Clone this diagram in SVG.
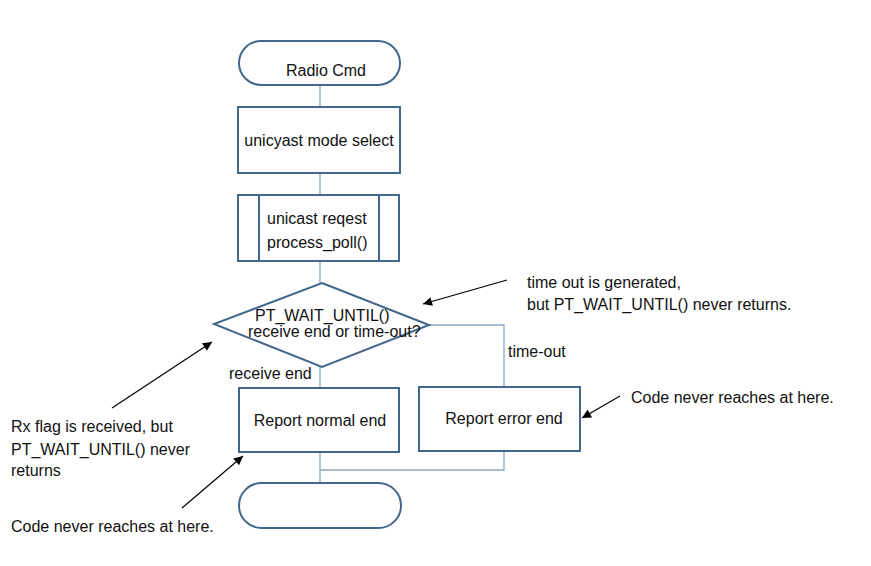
<svg xmlns="http://www.w3.org/2000/svg" width="871" height="566" viewBox="0 0 871 566">
<defs>
<style>
.n{fill:#fff;stroke:#41688c;stroke-width:2}
.c{fill:none;stroke:#8aa8c0;stroke-width:1.3}
.a{fill:none;stroke:#000;stroke-width:1.2}
text{font-family:"Liberation Sans",Arial,sans-serif;font-size:16px;fill:#111}
</style>
<marker id="ah" viewBox="0 0 10 10" refX="10" refY="5" markerWidth="12" markerHeight="9" markerUnits="userSpaceOnUse" orient="auto"><path d="M0,0L10,5L0,10z" fill="#000"/></marker>
</defs>
<rect width="871" height="566" fill="#fff"/>
<g id="connectors">
<path class="c" d="M320,85V107"/>
<path class="c" d="M320,173V195"/>
<path class="c" d="M320,261V283"/>
<path class="c" d="M320,367V388"/>
<path class="c" d="M429,325H504V387"/>
<path class="c" d="M320,452V483"/>
<path class="c" d="M504,451V470H320"/>
<text x="508" y="357">time-out</text>
<text x="229" y="379">receive end</text>
</g>
<g id="start"><rect class="n" x="239" y="41" width="161" height="44" rx="22"/><text x="326" y="76" text-anchor="middle">Radio Cmd</text></g>
<g id="mode"><rect class="n" x="238" y="107" width="162" height="66"/><text x="319" y="146" text-anchor="middle">unicyast mode select</text></g>
<g id="poll"><rect class="n" x="238" y="195" width="161" height="66"/><path class="n" d="M259,195V261M379,195V261"/><text x="267" y="224">unicast reqest</text><text x="267" y="248">process_poll()</text></g>
<g id="wait"><path class="n" d="M322,283L429,325L322,367L214,324Z"/><text x="255" y="321">PT_WAIT_UNTIL()</text><text x="248" y="337">receive end or time-out?</text></g>
<g id="normal"><rect class="n" x="239" y="388" width="160" height="64"/><text x="320" y="426" text-anchor="middle">Report normal end</text></g>
<g id="error"><rect class="n" x="419" y="387" width="161" height="64"/><text x="504" y="424" text-anchor="middle">Report error end</text></g>
<g id="end"><rect class="n" x="239" y="483" width="162" height="45" rx="22.5"/></g>
<g id="notes">
<path class="a" marker-end="url(#ah)" d="M507,280L423,304"/>
<text x="527" y="288">time out is generated,</text>
<text x="527" y="310">but PT_WAIT_UNTIL() never returns.</text>
<path class="a" marker-end="url(#ah)" d="M112,408L212,342"/>
<text x="11" y="432">Rx flag is received, but</text>
<text x="11" y="455">PT_WAIT_UNTIL() never</text>
<text x="11" y="476">returns</text>
<path class="a" marker-end="url(#ah)" d="M182,508L243,456"/>
<text x="11" y="532">Code never reaches at here.</text>
<path class="a" marker-end="url(#ah)" d="M620,396L582,418"/>
<text x="631" y="403">Code never reaches at here.</text>
</g>
</svg>
